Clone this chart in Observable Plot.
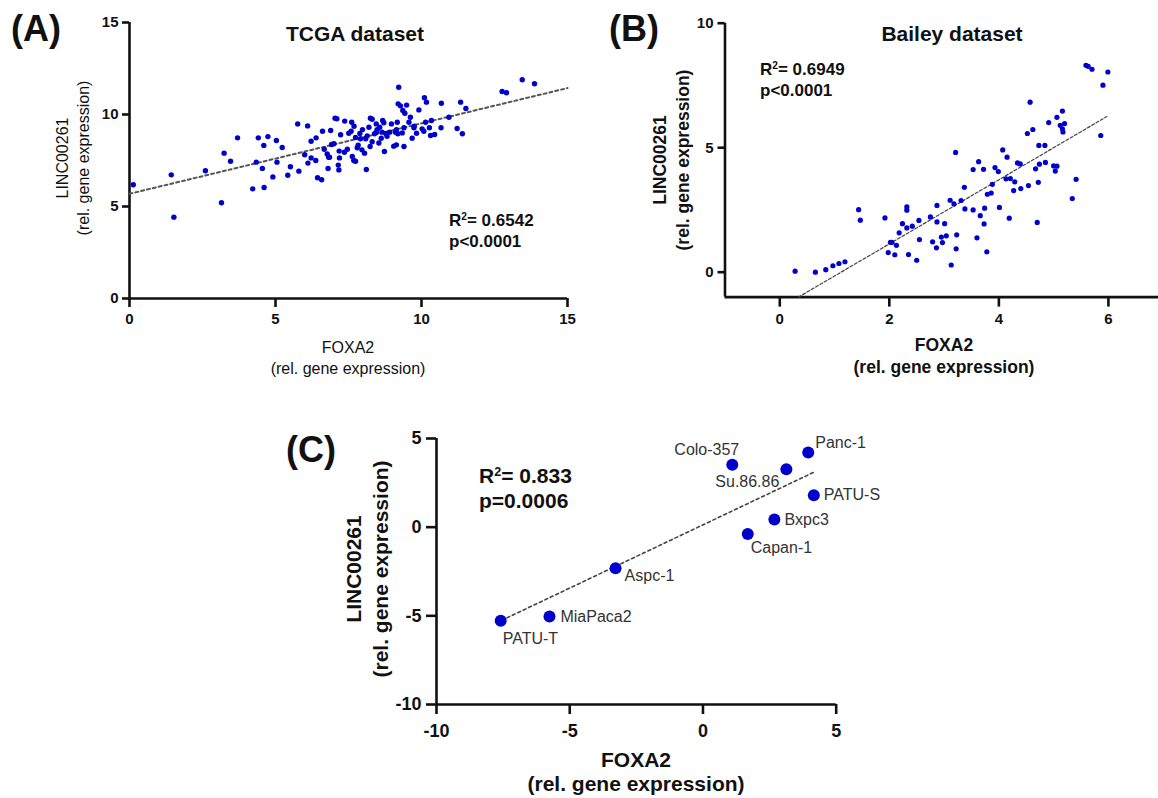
<!DOCTYPE html>
<html><head><meta charset="utf-8">
<script src="https://cdn.jsdelivr.net/npm/d3@7"></script>
<script src="https://cdn.jsdelivr.net/npm/@observablehq/plot@0.6"></script>
<style>
body{margin:0;background:#fff;overflow:hidden}
#root{position:relative;width:1158px;height:798px;overflow:hidden;font-family:"Liberation Sans",Arial,sans-serif;color:#111;background:#fff}
.panel{position:absolute}
.t{position:absolute;white-space:nowrap;text-align:center;transform:translate(-50%,-50%)}
.rot{transform:translate(-50%,-50%) rotate(-90deg)}
.ann{position:absolute;white-space:nowrap;font-weight:bold}
.ann sup{font-size:0.6em;vertical-align:baseline;position:relative;top:-0.5em;line-height:0}
</style></head><body><div id="root"></div>
<script>
// ---------- DATA ----------
// (A) TCGA dataset
const tcgaFOXA2 = [0.13,1.52,1.43,2.60,3.15,3.24,3.46,3.70,4.22,4.41,4.60,4.74,4.34,4.55,4.61,5.03,5.23,5.05,4.91,5.42,5.51,5.80,5.76,6.10,6.00,6.11,6.22,6.38,6.22,6.39,6.61,6.44,6.58,6.80,6.89,7.15,7.17,6.85,7.00,7.19,8.11,7.68,
 6.67,6.77,6.82,6.92,7.04,7.10,7.18,7.23,7.37,7.36,7.46,7.51,7.59,7.61,7.69,7.74,7.63,7.74,7.83,7.80,7.91,7.89,7.98,7.96,8.05,8.09,8.14,8.20,8.25,8.31,8.24,8.31,8.39,8.46,8.48,8.45,8.54,8.62,8.67,8.71,8.57,8.65,8.73,8.78,8.82,8.91,8.97,9.05,9.14,9.11,9.14,9.19,9.17,9.22,9.20,9.28,9.36,9.43,9.49,9.34,9.40,9.40,9.62,9.57,9.68,9.74,9.83,9.91,
 10.10,10.17,9.75,10.02,10.08,10.14,10.27,10.31,10.45,10.34,10.68,10.67,10.94,11.34,11.52,11.22,11.40,12.76,12.91,13.45,13.87];
const tcgaLINC = [6.18,4.42,6.72,6.94,5.20,7.90,7.46,8.73,5.96,8.73,8.32,8.80,7.41,7.07,6.03,8.59,8.21,7.41,6.61,6.70,7.16,6.92,9.49,9.38,7.81,7.36,7.64,7.50,8.55,8.73,9.09,6.56,6.45,7.07,9.13,7.25,6.99,7.68,8.41,7.64,7.01,7.50,
 8.11,7.86,7.68,8.37,9.80,9.77,8.01,8.90,9.64,7.95,8.11,8.98,9.09,9.58,9.36,8.75,7.72,7.46,8.33,8.19,8.68,8.97,9.18,8.08,7.90,8.68,8.84,9.31,9.80,9.74,8.26,8.52,8.95,9.04,9.18,9.49,8.45,8.71,9.67,9.55,9.31,9.04,7.99,8.97,8.82,9.04,9.49,8.28,8.35,9.04,9.17,8.95,9.58,11.48,10.58,10.47,10.22,10.07,10.51,9.00,9.28,8.26,9.85,9.58,8.71,9.28,8.98,10.25,
 10.91,10.67,9.36,9.22,9.09,9.58,9.28,8.86,8.91,9.67,10.61,9.28,9.85,10.67,10.33,9.24,8.95,11.25,11.18,11.89,11.67];
const tcgaFit = {slope: 0.383, intercept: 5.69, from: 0, to: 15};
const tcgaStats = ["0.6542", "p<0.0001"];

// (B) Bailey dataset
const baileyFOXA2 = [0.28,0.65,0.84,0.97,1.08,1.19,1.44,1.47,1.92,2.02,2.05,1.98,2.10,2.13,2.18,2.24,2.32,2.42,2.32,2.32,2.35,2.50,2.54,2.55,2.75,2.87,2.87,2.79,2.86,2.95,2.97,3.01,3.04,3.13,3.11,3.18,3.21,3.23,3.22,3.31,3.38,3.37,3.53,3.53,3.63,3.66,3.60,3.72,3.73,3.74,3.78,3.79,3.86,3.88,3.93,3.99,4.01,4.07,4.15,4.13,4.21,4.29,4.27,4.19,4.34,4.39,4.40,4.54,4.57,4.52,4.62,4.67,4.70,4.72,4.73,4.74,4.84,4.85,4.91,5.00,5.06,5.03,5.06,5.16,5.12,5.20,5.16,5.17,5.34,5.41,5.59,5.63,5.70,5.90,5.86,5.99];
const baileyLINC = [0.04,0.00,0.10,0.26,0.35,0.42,2.51,2.09,2.18,1.20,1.20,0.79,0.70,1.08,1.58,1.95,1.78,1.85,2.62,2.49,0.71,0.48,2.08,1.31,2.22,2.68,2.02,1.22,0.98,1.41,1.19,1.95,1.46,0.29,2.89,2.74,4.81,1.50,0.94,2.88,2.54,3.41,2.50,4.12,4.44,2.27,1.38,4.13,1.94,2.57,0.82,3.13,3.18,3.53,4.20,4.04,2.60,4.91,4.62,3.75,3.76,3.63,3.28,2.17,4.39,4.35,3.36,3.48,6.83,5.57,5.73,4.15,2.00,3.61,5.09,4.34,5.09,4.41,6.01,4.27,4.26,4.06,6.22,6.47,5.90,5.97,5.76,5.63,2.96,3.73,8.31,8.27,8.15,7.51,5.49,8.04];
const baileyFit = {slope: 1.288, intercept: -1.44, from: 0.34, to: 5.97};
const baileyStats = ["0.6949", "p<0.0001"];

// (C) cell lines
const cellLines = ["PATU-T","MiaPaca2","Aspc-1","Capan-1","Bxpc3","PATU-S","Colo-357","Su.86.86","Panc-1"];
const cellFOXA2 = [-7.59,-5.76,-3.28,1.68,2.68,4.16,1.10,3.13,3.95];
const cellLINC  = [-5.28,-5.04,-2.32,-0.39,0.43,1.80,3.52,3.26,4.21];
const cellFit = {slope: 0.713, intercept: 0.13, from: -7.56, to: 4.18};
const cellStats = ["0.833", "p=0.0006"];

// tick labels
const ticksA = [0, 5, 10, 15];
const ticksBx = [0, 2, 4, 6];
const ticksBy = [0, 5, 10];
const ticksC = [-10, -5, 0, 5];

// ---------- RENDER ----------
const FONT = '"Liberation Sans", Arial, sans-serif';
const BLUE = "#0000cc";
const root = document.getElementById("root");

const zipPts = (xs, ys) => xs.map((x, i) => ({x, y: ys[i]}));
const fitPts = f => [f.from, f.to].map(x => ({x, y: f.slope * x + f.intercept}));

function place(el, left, top) {
  el.classList.add("panel");
  el.style.left = left + "px";
  el.style.top = top + "px";
  root.appendChild(el);
}

function axes(xt, yt, xd, yd, o) {
  const common = {strokeWidth: o.sw, stroke: "#111", fill: "#111", label: null, fontSize: o.fs, fontWeight: "bold", tickFormat: d => String(d)};
  return [
    Plot.ruleY([yd[0]], {strokeWidth: o.sw, stroke: "#111"}),
    Plot.ruleX([xd[0]], {strokeWidth: o.sw, stroke: "#111"}),
    Plot.axisX(xt, {...common, tickSize: o.xts, tickPadding: o.xtp}),
    Plot.axisY(yt, {...common, tickSize: o.yts, tickPadding: o.ytp})
  ];
}

// Panel A
const domA = [0, 15];
const plotA = Plot.plot({
  width: 600, height: 400,
  marginLeft: 129, marginRight: 33, marginTop: 22, marginBottom: 102,
  x: {domain: domA}, y: {domain: domA},
  style: {fontFamily: FONT, fontSize: "15px", fontWeight: "bold", background: "transparent", color: "#111"},
  marks: [
    ...axes(ticksA, ticksA, domA, domA, {sw: 2.6, fs: 15, xts: 9, xtp: 6, yts: 7, ytp: 4}),
    Plot.line(fitPts(tcgaFit), {x: "x", y: "y", stroke: "#555", strokeWidth: 2, strokeDasharray: "3,3"}),
    Plot.dot(zipPts(tcgaFOXA2, tcgaLINC), {x: "x", y: "y", r: 2.7, fill: BLUE, stroke: "none"})
  ]
});
place(plotA, 0, 0);

// Panel B
const domBx = [-1, 7], domBy = [-1, 10];
const plotB = Plot.plot({
  width: 600, height: 400,
  marginLeft: 124.5, marginRight: 37.3, marginTop: 22.7, marginBottom: 103.4,
  x: {domain: domBx}, y: {domain: domBy},
  style: {fontFamily: FONT, fontSize: "15px", fontWeight: "bold", background: "transparent", color: "#111"},
  marks: [
    ...axes(ticksBx, ticksBy, domBx, domBy, {sw: 2.6, fs: 15, xts: 10, xtp: 6, yts: 7, ytp: 4.5}),
    Plot.line(fitPts(baileyFit), {x: "x", y: "y", stroke: "#444", strokeWidth: 1.2, strokeDasharray: "3,2"}),
    Plot.dot(zipPts(baileyFOXA2, baileyLINC), {x: "x", y: "y", r: 2.6, fill: BLUE, stroke: "none"})
  ]
});
place(plotB, 600, 0);

// Panel C
const domC = [-10, 5];
const cells = cellLines.map((name, i) => ({name, x: cellFOXA2[i], y: cellLINC[i]}));
const labelStyle = {
  "PATU-T":   {textAnchor: "start", dx: 2,  dy: 18},
  "MiaPaca2": {textAnchor: "start", dx: 11, dy: 0},
  "Aspc-1":   {textAnchor: "start", dx: 9,  dy: 8},
  "Capan-1":  {textAnchor: "start", dx: 3,  dy: 14},
  "Bxpc3":    {textAnchor: "start", dx: 10, dy: 0},
  "PATU-S":   {textAnchor: "start", dx: 10, dy: 0},
  "Colo-357": {textAnchor: "end",   dx: 7,  dy: -15},
  "Su.86.86": {textAnchor: "end",   dx: -7, dy: 13},
  "Panc-1":   {textAnchor: "start", dx: 7,  dy: -10}
};
const plotC = Plot.plot({
  width: 600, height: 398,
  marginLeft: 156, marginRight: 44.3, marginTop: 38, marginBottom: 94,
  x: {domain: domC}, y: {domain: domC},
  style: {fontFamily: FONT, fontSize: "18px", fontWeight: "bold", background: "transparent", color: "#111"},
  marks: [
    ...axes(ticksC, ticksC, domC, domC, {sw: 2.6, fs: 18, xts: 10, xtp: 10, yts: 10, ytp: 5}),
    Plot.line(fitPts(cellFit), {x: "x", y: "y", stroke: "#444", strokeWidth: 1.6, strokeDasharray: "3,3"}),
    Plot.dot(cells, {x: "x", y: "y", r: 6, fill: BLUE, stroke: "none"}),
    ...cells.map(c => Plot.text([c], {x: "x", y: "y", text: "name", fill: "#333", fontSize: 16, fontWeight: "normal", ...labelStyle[c.name]}))
  ]
});
place(plotC, 280, 400);

// ---------- HTML TEXT ----------
function txt(html, left, top, css) {
  const d = document.createElement("div");
  d.className = "t" + (css.rot ? " rot" : "");
  d.innerHTML = html;
  d.style.left = left + "px";
  d.style.top = top + "px";
  d.style.fontSize = css.size + "px";
  d.style.fontWeight = css.weight || "normal";
  d.style.lineHeight = (css.lh || css.size) + "px";
  root.appendChild(d);
}
function ann(stats, left, top, size, lh) {
  const d = document.createElement("div");
  d.className = "ann";
  d.innerHTML = `R<sup>2</sup>= ${stats[0]}<br>${stats[1].replace("<", "&lt;")}`;
  d.style.left = left + "px";
  d.style.top = top + "px";
  d.style.fontSize = size + "px";
  d.style.lineHeight = lh + "px";
  root.appendChild(d);
}

// panel letters
txt("(A)", 36, 28.5, {size: 36, weight: "bold", lh: 36});
txt("(B)", 634, 28.5, {size: 36, weight: "bold", lh: 36});
txt("(C)", 311, 449.5, {size: 36, weight: "bold", lh: 36});
// titles
txt("TCGA dataset", 355, 33, {size: 21, weight: "bold"});
txt("Bailey dataset", 952, 33, {size: 21, weight: "bold"});
// axis titles A
txt("FOXA2<br>(rel. gene expression)", 348, 357.5, {size: 16, lh: 21});
txt("LINC00261<br>(rel. gene expression)", 73, 158, {size: 16, lh: 21, rot: true});
// axis titles B
txt("FOXA2<br>(rel. gene expression)", 944, 356, {size: 17.5, weight: "bold", lh: 21.5});
txt("LINC00261<br>(rel. gene expression)", 671, 160, {size: 17.5, weight: "bold", lh: 22.5, rot: true});
// axis titles C
txt("FOXA2<br>(rel. gene expression)", 636, 771.5, {size: 21, weight: "bold", lh: 24.5});
txt("LINC00261<br>(rel. gene expression)", 366.5, 569, {size: 21, weight: "bold", lh: 27, rot: true});
// stats
ann(tcgaStats, 449, 209.5, 17, 21);
ann(baileyStats, 760, 58.5, 17, 21);
ann(cellStats, 479, 462.5, 21, 25);
</script></body></html>
